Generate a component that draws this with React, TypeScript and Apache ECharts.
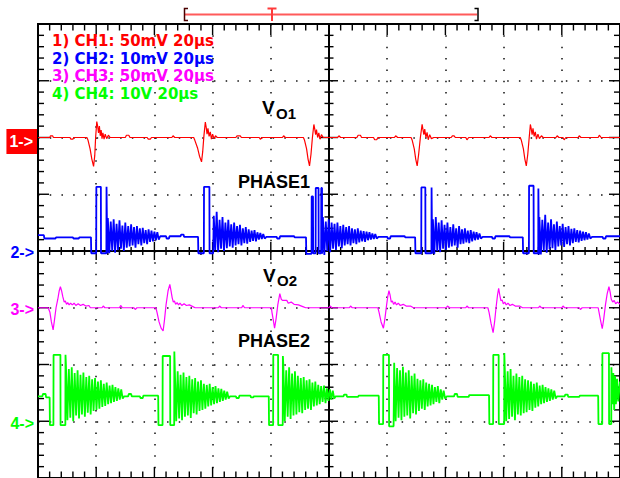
import React, { useEffect, useRef } from 'react';
import * as echarts from 'echarts';

// Time base: 10 divisions x 20 µs; vertical: 8 divisions
const T_MAX = 200;
const Y_DIV = 4;
const T_TICK = 4; // minor tick, µs
const Y_TICK = 0.2; // minor tick, div
const DT = 0.5; // µs between ringing samples

const legendLines = ['1) CH1: 50mV 20µs', '2) CH2: 10mV 20µs', '3) CH3: 50mV 20µs', '4) CH4: 10V 20µs'];
const channelColors = ['#ff0000', '#0000ff', '#ff00ff', '#00ff00'];
const channelOffsets = [2, 0, -1, -3];
const markerLabels = ['1->', '2->', '3->', '4->'];

// CH1 (V_O1) [µs, div relative to marker]
const ch1: number[][] = [
  [0, 0], [4, 0], [4.3, 0.03], [5, 0.03], [5.3, 0], [11, 0], [11.3, -0.03], [12, -0.03], [12.3, 0], [16.8, 0],
  [17.2, -0.05], [17.9, -0.2], [18.5, -0.38], [19.1, -0.51], [19.5, -0.32], [19.8, 0], [20.2, 0.28], [20.5, 0.2], [20.8, 0.08], [21.1, 0.2], [21.4, 0.03], [21.7, 0.13], [22, -0.02], [22.3, 0.08], [22.7, -0.03], [23.1, 0.06], [23.6, -0.02], [24.2, 0.04], [24.8, 0],
  [30, 0], [30.4, 0.04], [31.2, 0.04], [31.6, 0], [37.5, 0], [37.9, -0.03], [38.6, -0.03], [39, 0], [46, 0], [46.4, 0.03], [47, 0], [53.5, 0],
  [53.9, -0.05], [54.8, -0.18], [55.5, -0.33], [56.2, -0.43], [56.6, -0.25], [57, 0.02], [57.5, 0.27], [57.8, 0.18], [58.1, 0.06], [58.4, 0.16], [58.8, 0.02], [59.2, 0.1], [59.6, -0.03], [60, 0.06], [60.5, -0.02], [61, 0.03], [61.6, 0],
  [68, 0], [68.4, 0.03], [69.5, 0.03], [69.9, 0], [76, 0], [76.4, -0.03], [77, 0], [84, 0], [84.4, 0.03], [85, 0], [91.2, 0],
  [91.6, -0.05], [92.3, -0.2], [92.8, -0.38], [93.3, -0.5], [93.8, -0.3], [94.3, 0], [94.8, 0.23], [95.1, 0.15], [95.4, 0.05], [95.7, 0.14], [96.1, 0], [96.5, 0.08], [96.9, -0.03], [97.4, 0.05], [98, 0],
  [103, 0], [103.4, 0.03], [104, 0], [109.6, 0], [110, 0.04], [110.8, 0.04], [111.2, 0], [115.3, 0], [115.7, -0.04], [116.4, -0.04], [116.8, 0], [122.5, 0], [122.9, 0.03], [123.6, 0], [128.2, 0],
  [128.6, -0.05], [129.3, -0.2], [129.8, -0.38], [130.3, -0.5], [130.8, -0.3], [131.4, 0], [132, 0.23], [132.3, 0.14], [132.6, 0.05], [132.9, 0.15], [133.3, 0], [133.7, 0.09], [134.1, -0.04], [134.6, 0.05], [135.2, -0.02], [136, 0],
  [142, 0], [142.4, 0.03], [143, 0.03], [143.4, 0], [147, 0], [147.4, -0.04], [148, 0], [155, 0], [155.4, 0.03], [156, 0], [165.7, 0],
  [166.1, -0.05], [166.8, -0.2], [167.3, -0.38], [167.8, -0.5], [168.3, -0.3], [168.8, 0], [169.2, 0.23], [169.5, 0.15], [169.8, 0.05], [170.1, 0.16], [170.5, 0.02], [170.9, 0.1], [171.3, -0.03], [171.8, 0.06], [172.3, -0.02], [173, 0.03], [173.6, 0],
  [178, 0], [178.4, 0.03], [179, 0], [180.4, 0], [180.8, -0.04], [181.4, 0], [185.6, 0], [186, 0.03], [186.6, 0], [192.5, 0], [192.9, 0.04], [193.5, 0], [200, 0],
];

// CH3 (V_O2)
const ch3: number[][] = [
  [0, 0], [3.5, 0], [4.1, -0.08], [4.6, -0.25], [5.2, -0.39], [5.7, -0.2], [6.2, 0], [6.8, 0.15], [7.3, 0.3], [7.7, 0.37], [8.1, 0.3], [8.5, 0.2], [9, 0.1], [9.4, 0.12], [9.8, 0.06], [10.2, 0.09], [10.7, 0.05], [11.2, 0.08], [11.8, 0.05], [12.4, 0.08], [13, 0.04], [13.8, 0.07], [14.6, 0.04], [15.5, 0.06], [16.4, 0.03], [17.5, 0.04], [18, 0],
  [22, 0], [22.4, 0.03], [23, 0], [28, 0], [28.4, 0.04], [29, 0], [33, 0], [33.4, -0.03], [34, 0], [40.5, 0],
  [40.9, -0.08], [41.6, -0.25], [42.3, -0.36], [43, -0.41], [43.5, -0.2], [44, 0.05], [44.7, 0.3], [45.3, 0.41], [45.7, 0.3], [46.1, 0.18], [46.5, 0.1], [46.9, 0.12], [47.3, 0.06], [47.8, 0.09], [48.3, 0.05], [48.8, 0.08], [49.4, 0.04], [50.2, 0.07], [51, 0.04], [52, 0.05], [53.2, 0.02], [54, 0],
  [62, 0], [62.4, 0.03], [63, 0], [70, 0], [70.4, 0.04], [71, 0], [80.2, 0],
  [80.4, -0.08], [80.8, -0.2], [81.3, -0.36], [81.8, -0.2], [82.4, 0.05], [83.1, 0.25], [83.6, 0.15], [84, 0.13], [85.5, 0.13], [86, 0.08], [87, 0.1], [88, 0.06], [89.5, 0.05], [91, 0.02], [92, 0],
  [100, 0], [100.4, 0.03], [101, 0], [107, 0], [107.4, 0.03], [108, 0], [116.8, 0],
  [117.2, -0.08], [117.9, -0.25], [118.7, -0.36], [119.2, -0.2], [119.8, 0.05], [120.2, 0.2], [120.6, 0.3], [121, 0.22], [121.4, 0.1], [121.8, 0.12], [122.2, 0.06], [122.7, 0.1], [123.2, 0.05], [123.8, 0.08], [124.5, 0.04], [125.5, 0.06], [126.5, 0.03], [128, 0.03], [129, 0],
  [140.3, 0], [140.7, 0.03], [141.5, 0], [147, 0], [147.4, 0.03], [148, 0], [154.6, 0],
  [155, -0.08], [155.7, -0.28], [156.4, -0.44], [156.9, -0.25], [157.4, 0], [157.9, 0.22], [158.3, 0.34], [158.7, 0.22], [159.1, 0.12], [159.5, 0.14], [159.9, 0.07], [160.4, 0.1], [160.9, 0.05], [161.5, 0.08], [162.2, 0.04], [163, 0.06], [164, 0.03], [165.5, 0.03], [166.5, 0],
  [172, 0], [172.4, 0.03], [173, 0], [180, 0], [180.4, 0.03], [181, 0], [186, 0], [186.4, -0.03], [187, 0], [192.5, 0],
  [192.8, -0.08], [193.3, -0.22], [193.9, -0.37], [194.4, -0.2], [195, 0.05], [195.6, 0.25], [196.2, 0.37], [196.6, 0.28], [197, 0.15], [197.5, 0.1], [198, 0.13], [198.5, 0.07], [199.2, 0.1], [200, 0.06],
];

// CH2 (PHASE1): switching edges + idle, ringing bursts listed separately
const ch2Shape: number[][] = [
  [0, 0.28], [2, 0.28], [2.2, 0.22], [6, 0.22], [6.2, 0.24], [12, 0.24], [12.2, 0.22], [14, 0.22], [14.2, 0.24], [18.2, 0.24],
  [18.3, -0.04], [20, -0.04], [20.05, 1.13], [21.6, 1.13], [21.65, -0.04], [23.5, -0.04], [23.55, 1.13], [23.75, 1.13], [23.8, -0.04],
  [42, 0.26], [44, 0.26], [44.2, 0.22], [45, 0.22], [45.2, 0.26], [49, 0.26], [49.2, 0.29], [50, 0.29], [50.2, 0.25], [55, 0.25],
  [55.1, -0.04], [57, -0.04], [57.05, 1.13], [58.9, 1.13], [58.95, -0.04], [60.2, -0.04],
  [78.5, 0.25], [82, 0.25], [82.2, 0.22], [83, 0.22], [83.2, 0.26], [88, 0.26], [88.2, 0.24], [92.1, 0.24],
  [92.2, -0.05], [94, -0.05], [94.05, 0.96], [94.5, 0.96], [94.55, -0.04], [95.4, -0.04], [95.45, 1.11], [96.4, 1.11], [96.45, -0.04], [97.3, -0.04], [97.35, 1.11], [97.6, 1.11], [97.65, -0.05],
  [117, 0.25], [120, 0.25], [120.2, 0.22], [121, 0.22], [121.2, 0.26], [126, 0.26], [126.2, 0.24], [129.6, 0.24],
  [129.7, -0.04], [131.7, -0.04], [131.75, 1.12], [133.1, 1.12], [133.15, -0.04], [135.2, -0.04], [135.25, 1.12], [135.4, 1.12], [135.45, -0.05],
  [152.8, 0.25], [156, 0.25], [156.2, 0.22], [157, 0.22], [157.2, 0.26], [162, 0.26], [162.2, 0.24], [166.6, 0.24],
  [166.7, -0.04], [168.7, -0.04], [168.75, 1.15], [170.3, 1.15], [170.35, -0.04], [171.9, -0.04], [171.95, 1.1], [172.1, 1.1], [172.15, -0.06],
  [190.4, 0.25], [194, 0.25], [194.2, 0.22], [195, 0.22], [195.2, 0.26], [200, 0.26],
];
const ch2BurstStarts = [24.0, 60.4, 97.9, 135.7, 172.3];
const ch2Burst1 = [0.58, -0.04, 0.52, 0.0, 0.56, -0.03, 0.48, 0.02, 0.54, 0.04, 0.45, 0.0, 0.5, 0.06, 0.44, 0.08, 0.47, 0.1, 0.42, 0.06, 0.44, 0.12, 0.4, 0.1, 0.41, 0.14, 0.37, 0.12, 0.38, 0.16, 0.36, 0.17, 0.34, 0.19, 0.33, 0.2];
const ch2Burst2 = [0.62, 0.02, 0.69, -0.02, 0.55, 0.04, 0.6, 0.0, 0.5, 0.05, 0.55, 0.08, 0.47, 0.06, 0.5, 0.1, 0.44, 0.12, 0.46, 0.1, 0.4, 0.14, 0.42, 0.13, 0.38, 0.16, 0.36, 0.18, 0.37, 0.17, 0.33, 0.2, 0.32, 0.21, 0.3, 0.22];
const ch2Burst3 = [0.6, -0.07, 0.52, 0.0, 0.56, -0.02, 0.5, 0.04, 0.48, 0.02, 0.5, 0.08, 0.44, 0.05, 0.46, 0.1, 0.42, 0.12, 0.44, 0.1, 0.4, 0.14, 0.38, 0.12, 0.4, 0.15, 0.36, 0.17, 0.35, 0.16, 0.34, 0.19, 0.33, 0.2, 0.31, 0.21, 0.3, 0.22];
const ch2Burst4 = [0.56, -0.05, 0.6, 0.0, 0.5, -0.02, 0.54, 0.04, 0.46, 0.02, 0.5, 0.06, 0.42, 0.08, 0.47, 0.1, 0.4, 0.06, 0.44, 0.12, 0.38, 0.13, 0.4, 0.15, 0.36, 0.14, 0.37, 0.17, 0.34, 0.19, 0.33, 0.2, 0.31, 0.22];
const ch2Burst5 = [0.6, -0.06, 0.55, 0.0, 0.64, -0.03, 0.5, 0.03, 0.56, 0.05, 0.47, 0.02, 0.52, 0.08, 0.44, 0.1, 0.48, 0.07, 0.42, 0.12, 0.44, 0.1, 0.39, 0.14, 0.4, 0.16, 0.37, 0.15, 0.36, 0.18, 0.34, 0.19, 0.33, 0.2, 0.31, 0.22];

// CH4 (PHASE2)
const ch4Shape: number[][] = [
  [0, 0.44], [1.5, 0.44], [1.7, 0.48], [2.6, 0.48], [2.8, 0.42], [4, 0.42],
  [4.1, -0.07], [5.3, -0.07], [5.35, 1.17], [7.7, 1.17], [7.75, -0.07], [9.4, -0.07], [9.45, 1.17],
  [29.6, 0.44], [31, 0.44], [31.2, 0.48], [32, 0.48], [32.2, 0.44], [35, 0.44], [35.2, 0.41], [36, 0.41], [36.2, 0.45], [41.3, 0.45],
  [41.4, -0.07], [42.8, -0.07], [42.85, 1.15], [45.4, 1.15], [45.45, -0.07], [46.8, -0.07], [46.85, 1.23],
  [66, 0.44], [68, 0.44], [68.2, 0.41], [69, 0.41], [69.2, 0.45], [73, 0.45], [73.2, 0.42], [74, 0.42], [74.2, 0.44], [79.3, 0.44],
  [79.4, -0.07], [80.8, -0.07], [80.85, 1.17], [82.5, 1.17], [82.55, -0.07], [84.1, -0.07], [84.15, 1.15],
  [102.3, 0.44], [105, 0.44], [105.2, 0.47], [106, 0.47], [106.2, 0.43], [110, 0.43], [110.2, 0.45], [117.1, 0.45],
  [117.2, -0.05], [118.6, -0.05], [118.65, 1.17], [120.6, 1.17], [120.65, -0.09], [122.2, -0.09],
  [140.5, 0.44], [143, 0.44], [143.2, 0.48], [144, 0.48], [144.2, 0.43], [148, 0.43], [148.2, 0.46], [155, 0.46],
  [155.1, -0.05], [156.4, -0.05], [156.45, 1.17], [158.3, 1.17], [158.35, -0.05], [160.2, -0.05], [160.25, 1.2],
  [178.4, 0.44], [181, 0.44], [181.2, 0.47], [182, 0.47], [182.2, 0.43], [186, 0.43], [186.2, 0.45], [192.5, 0.45],
  [192.6, -0.05], [193.9, -0.05], [193.95, 1.2], [196.2, 1.2], [196.25, -0.05], [197, -0.05], [197.05, 0.95], [197.4, 0.3], [197.7, 0.85], [198, 0.2], [198.3, 0.8], [198.6, 0.3], [199, 0.75], [199.4, 0.35], [200, 0.7],
];
const ch4BurstStarts = [9.6, 47.0, 84.3, 122.4, 160.4];
const ch4Burst1 = [1.0, 0.02, 0.92, 0.06, 0.95, 0.0, 0.85, 0.1, 0.9, 0.05, 0.82, 0.12, 0.86, 0.08, 0.78, 0.15, 0.8, 0.12, 0.74, 0.18, 0.76, 0.2, 0.7, 0.22, 0.72, 0.25, 0.66, 0.27, 0.68, 0.3, 0.63, 0.32, 0.64, 0.34, 0.6, 0.36, 0.58, 0.38, 0.56, 0.4];
const ch4Burst2 = [0.95, 0.0, 0.88, 0.05, 0.82, 0.02, 0.86, 0.08, 0.78, 0.1, 0.8, 0.06, 0.74, 0.14, 0.76, 0.12, 0.7, 0.18, 0.72, 0.2, 0.66, 0.22, 0.64, 0.26, 0.66, 0.28, 0.6, 0.3, 0.62, 0.32, 0.58, 0.34, 0.57, 0.36, 0.54, 0.38, 0.52, 0.4];
const ch4Burst3 = [1.0, 0.0, 0.9, 0.08, 0.95, 0.04, 0.84, 0.1, 0.88, 0.12, 0.8, 0.16, 0.76, 0.14, 0.78, 0.2, 0.72, 0.22, 0.74, 0.2, 0.68, 0.26, 0.7, 0.28, 0.64, 0.3, 0.62, 0.34, 0.63, 0.32, 0.58, 0.36, 0.56, 0.38, 0.54, 0.4];
const ch4Burst4 = [1.03, 0.0, 0.94, 0.06, 0.9, 0.02, 0.96, 0.08, 0.86, 0.1, 0.9, 0.05, 0.8, 0.14, 0.84, 0.12, 0.75, 0.18, 0.72, 0.22, 0.74, 0.2, 0.68, 0.26, 0.66, 0.28, 0.64, 0.3, 0.6, 0.34, 0.62, 0.32, 0.56, 0.38, 0.54, 0.4];
const ch4Burst5 = [0.94, 0.0, 0.88, 0.04, 0.92, 0.08, 0.8, 0.02, 0.84, 0.12, 0.78, 0.1, 0.8, 0.14, 0.74, 0.16, 0.72, 0.2, 0.7, 0.18, 0.66, 0.24, 0.68, 0.26, 0.63, 0.3, 0.64, 0.32, 0.6, 0.34, 0.58, 0.36, 0.56, 0.38, 0.54, 0.4];

function assemble(shape: number[][], starts: number[], bursts: number[][], offset: number) {
  const pts: number[][] = shape.slice();
  bursts.forEach((vals, k) => {
    vals.forEach((v, i) => pts.push([starts[k] + i * DT, v]));
  });
  pts.sort((a, b) => a[0] - b[0]);
  return pts.map(([t, v]) => [t, v + offset]);
}

const FONT = '"Liberation Sans", Arial, Helvetica, sans-serif';
const LEGEND_FONT = '"DejaVu Sans", Verdana, sans-serif';

function buildOption() {
  const traces = [
    assemble(ch1, [], [], channelOffsets[0]),
    assemble(ch2Shape, ch2BurstStarts, [ch2Burst1, ch2Burst2, ch2Burst3, ch2Burst4, ch2Burst5], channelOffsets[1]),
    assemble(ch3, [], [], channelOffsets[2]),
    assemble(ch4Shape, ch4BurstStarts, [ch4Burst1, ch4Burst2, ch4Burst3, ch4Burst4, ch4Burst5], channelOffsets[3]),
  ];
  const traceWidths = [1.2, 1.8, 1.2, 1.8];

  const frameSeries = {
    type: 'custom',
    z: 1,
    silent: true,
    data: [[0, 0]],
    renderItem: (_p: any, api: any) => {
      const tl = api.coord([0, Y_DIV]);
      const br = api.coord([T_MAX, -Y_DIV]);
      const c = api.coord([T_MAX / 2, 0]);
      const thin = { stroke: '#000', lineWidth: 1.4 };
      const ch: any[] = [];
      const ln = (x1: number, y1: number, x2: number, y2: number, style: any) =>
        ch.push({ type: 'line', shape: { x1, y1, x2, y2 }, style });
      const nx = Math.round(T_MAX / T_TICK);
      for (let i = 1; i < nx; i++) {
        const x = api.coord([i * T_TICK, 0])[0];
        const major = i % 5 === 0;
        const L = major ? 11 : 6.5;
        const C = major ? 9 : 4;
        ln(x, tl[1], x, tl[1] + L, thin);
        ln(x, br[1], x, br[1] - L, thin);
        ln(x, c[1] - C, x, c[1] + C, thin);
      }
      const ny = Math.round((2 * Y_DIV) / Y_TICK);
      for (let j = 1; j < ny; j++) {
        const y = api.coord([0, -Y_DIV + j * Y_TICK])[1];
        const major = j % 5 === 0;
        const L = major ? 11 : 6;
        const C = major ? 9 : 4.5;
        ln(tl[0], y, tl[0] + L, y, thin);
        ln(br[0], y, br[0] - L, y, thin);
        ln(c[0] - C, y, c[0] + C, y, thin);
      }
      ln(c[0], tl[1], c[0], br[1], { stroke: '#000', lineWidth: 2 });
      ln(tl[0], c[1], br[0], c[1], { stroke: '#000', lineWidth: 2 });
      ch.push({
        type: 'rect',
        shape: { x: tl[0], y: tl[1], width: br[0] - tl[0], height: br[1] - tl[1] },
        style: { fill: 'none', stroke: '#000', lineWidth: 2 },
      });
      return { type: 'group', children: ch };
    },
  };

  const traceSeries = traces.map((d, k) => ({
    type: 'line',
    data: d,
    z: 3,
    showSymbol: false,
    symbol: 'none',
    silent: true,
    lineStyle: { color: channelColors[k], width: traceWidths[k] },
  }));

  const txt = (text: string, x: number, y: number, size: number, color: string, family = FONT) => ({
    type: 'text',
    x,
    y,
    z: 100,
    style: {
      text,
      fill: color,
      font: `bold ${size}px ${family}`,
      verticalAlign: 'middle',
      textVerticalAlign: 'middle',
    },
  });

  const legendY = [41, 58.7, 76.4, 94.1];
  const graphic: any[] = [
    ...legendLines.map((s, k) => txt(s, 52, legendY[k], 15, channelColors[k], LEGEND_FONT)),
    txt('V', 262, 107, 19, '#000'),
    txt('O1', 276, 113, 15, '#000'),
    txt('PHASE1', 238, 182, 18, '#000'),
    txt('V', 263, 275.5, 19, '#000'),
    txt('O2', 277, 280, 15, '#000'),
    txt('PHASE2', 238, 340.5, 18, '#000'),
    { type: 'line', z: 100, shape: { x1: 185, y1: 14.5, x2: 477, y2: 14.5 }, style: { stroke: '#ff5a5a', lineWidth: 2 } },
    { type: 'polyline', z: 100, shape: { points: [[188, 8.5], [184.5, 8.5], [184.5, 20.5], [188, 20.5]] }, style: { stroke: '#4a0000', lineWidth: 1.5, fill: null } },
    { type: 'polyline', z: 100, shape: { points: [[474.5, 8.5], [478, 8.5], [478, 20.5], [474.5, 20.5]] }, style: { stroke: '#000', lineWidth: 1.5, fill: null } },
    { type: 'line', z: 100, shape: { x1: 267.5, y1: 8.5, x2: 276.5, y2: 8.5 }, style: { stroke: '#ff3a3a', lineWidth: 2 } },
    { type: 'line', z: 100, shape: { x1: 272, y1: 8.5, x2: 272, y2: 21 }, style: { stroke: '#ff3a3a', lineWidth: 2 } },
  ];

  const markerRich: any = {
    sp: { fontSize: 8, lineHeight: 8, height: 8 },
    m0: { backgroundColor: '#ff0000', color: '#fff', fontSize: 16, fontWeight: 'bold', fontFamily: FONT, lineHeight: 16, padding: [4, 4, 5, 3] },
    m1: { color: channelColors[1], fontSize: 16, fontWeight: 'bold', fontFamily: FONT, lineHeight: 16, padding: [3, 3, 0, 0] },
    m2: { color: channelColors[2], fontSize: 16, fontWeight: 'bold', fontFamily: FONT, lineHeight: 16, padding: [4, 3, 0, 0] },
    m3: { color: channelColors[3], fontSize: 16, fontWeight: 'bold', fontFamily: FONT, lineHeight: 16, padding: [4, 3, 0, 0] },
  };

  return {
    animation: false,
    backgroundColor: '#fff',
    grid: { left: 38, top: 24, width: 586.5, height: 454, containLabel: false },
    xAxis: {
      type: 'value',
      min: 0,
      max: T_MAX,
      interval: 20,
      axisLine: { show: false },
      axisTick: { show: false },
      axisLabel: { show: false },
      splitLine: { show: true, lineStyle: { color: '#111', width: 1.5, type: [1.5, 9.85] } },
    },
    yAxis: {
      type: 'value',
      min: -Y_DIV,
      max: Y_DIV,
      interval: 1,
      axisLine: { show: false },
      axisTick: { show: false },
      splitLine: { show: true, lineStyle: { color: '#111', width: 1.5, type: [1.5, 10.23] } },
      axisLabel: {
        show: true,
        margin: 1,
        formatter: (v: number) => {
          const k = channelOffsets.findIndex((o) => Math.abs(o - v) < 1e-6);
          if (k < 0) return '';
          if (k === 0) return `{sp| }\n{m0|${markerLabels[0]}}`;
          return `{m${k}|${markerLabels[k]}}`;
        },
        rich: markerRich,
      },
    },
    graphic,
    series: [frameSeries, ...traceSeries],
  };
}

export default function App() {
  const ref = useRef<HTMLDivElement>(null);
  useEffect(() => {
    if (!ref.current) return;
    const chart = echarts.init(ref.current, undefined, { renderer: 'svg' });
    chart.setOption(buildOption() as any);
    return () => chart.dispose();
  }, []);
  return (
    <div
      ref={ref}
      style={{ position: 'fixed', left: 0, top: 0, width: 620, height: 478, background: '#fff' }}
    />
  );
}
